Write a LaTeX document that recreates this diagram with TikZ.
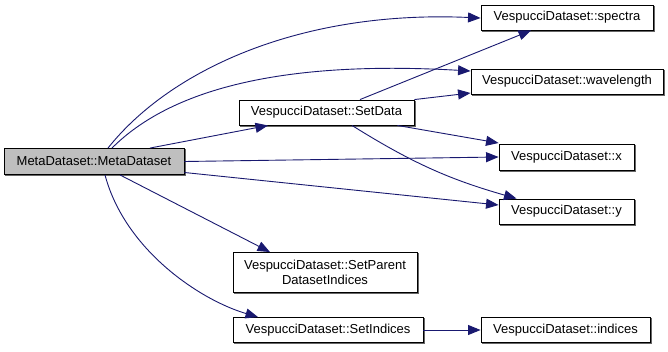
\documentclass[tikz,border=0pt]{standalone}
\usepackage{fontspec}
\setmainfont{Liberation Sans}
\usetikzlibrary{arrows.meta}
\definecolor{edgeblue}{HTML}{191970}
\definecolor{rootfill}{HTML}{BFBFBF}
\begin{document}
\begin{tikzpicture}[x=1pt,y=-1pt,
  fn/.style={draw=black, line width=0.9pt, fill=white, inner sep=0pt,
    minimum height=25pt, font=\fontsize{13}{15}\selectfont, align=center},
  boxshade/.style={draw=black!60, line width=1pt},
  call/.style={draw=edgeblue, line width=0.9pt,
    -{Triangle[length=12.5pt,width=10pt]}},
  ]
\useasboundingbox (0,0) rectangle (668,351);
\fill[white] (0,0) rectangle (668,351);

% function boxes
\node[fn, fill=rootfill, minimum width=180pt, minimum height=26pt] (meta) at (94,161.5) {MetaDataset::MetaDataset};
\node[fn, minimum width=175pt] (setdata) at (326.5,112.5) {VespucciDataset::SetData};
\node[fn, minimum width=172pt] (spectra) at (567,17.5) {VespucciDataset::spectra};
\node[fn, minimum width=192pt] (wavelength) at (567,81.5) {VespucciDataset::wavelength};
\node[fn, minimum width=135pt, minimum height=26pt] (xval) at (566.5,157) {VespucciDataset::x};
\node[fn, minimum width=135pt] (yval) at (566.5,211.5) {VespucciDataset::y};
\node[fn, minimum width=184pt, minimum height=40pt] (setparent) at (325,272.5) {VespucciDataset::SetParent\\DatasetIndices};
\node[fn, minimum width=190pt] (setindices) at (328,330) {VespucciDataset::SetIndices};
\node[fn, minimum width=169pt] (indices) at (565.5,330) {VespucciDataset::indices};

% darker right and bottom edges of the boxes
\foreach \n in {meta,setdata,spectra,wavelength,xval,yval,setparent,setindices,indices}
  \draw[boxshade] ([xshift=1pt,yshift=-1pt]\n.north east)
    -- ([xshift=1pt,yshift=-1pt]\n.south east)
    -- ([xshift=1pt,yshift=-1pt]\n.south west);

% calls made by MetaDataset::MetaDataset
\draw[call] ([xshift=14pt]meta.north) .. controls (170,70) and (300,10) .. ([yshift=-0.5pt]spectra.west);
\draw[call] ([xshift=18pt]meta.north) .. controls (170,90) and (280,60) .. ([yshift=10.5pt]wavelength.west);
\draw[call] ([xshift=56pt]meta.north) -- ([xshift=-58.5pt]setdata.south);
\draw[call] (meta.east) -- (xval.west);
\draw[call] ([yshift=-11pt]meta.east) -- ([yshift=6.5pt]yval.west);
\draw[call] ([xshift=26pt]meta.south) -- ([xshift=-55pt]setparent.north);
\draw[call] ([xshift=11pt]meta.south) .. controls (125,250) and (200,300) .. ([xshift=-70pt]setindices.north);

% calls made by VespucciDataset::SetData
\draw[call] ([xshift=33.5pt]setdata.north) -- ([xshift=-36pt]spectra.south);
\draw[call] (setdata.north east) -- ([yshift=-11.5pt]wavelength.west);
\draw[call] ([xshift=-17pt]setdata.south east) -- ([yshift=14pt]xval.west);
\draw[call] ([xshift=25.5pt]setdata.south) to[bend right=8] ([xshift=-50pt]yval.north);

% call made by VespucciDataset::SetIndices
\draw[call] (setindices.east) -- (indices.west);
\end{tikzpicture}
\end{document}
